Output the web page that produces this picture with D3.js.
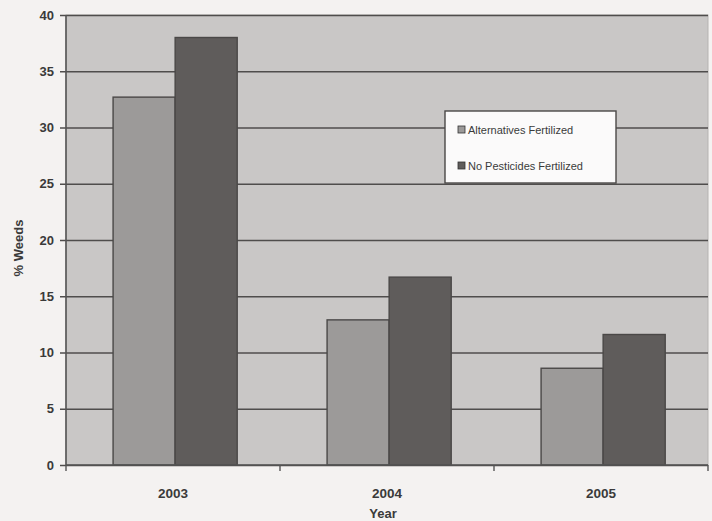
<!DOCTYPE html>
<html>
<head>
<meta charset="utf-8">
<script src="https://cdn.jsdelivr.net/npm/d3@7"></script>
<style>
  html, body { margin: 0; padding: 0; background: #f4f2f1; }
  svg { display: block; }
  text { font-family: "Liberation Sans", Arial, sans-serif; fill: #3a3a3a; }
</style>
</head>
<body>
<svg id="chart" width="712" height="521"></svg>
<script>
// Weed cover by year for two fertilized treatments
const years = ["2003", "2004", "2005"];
const seriesNames = ["Alternatives Fertilized", "No Pesticides Fertilized"];
const alternativesFertilized = [32.7, 12.9, 8.6];
const noPesticidesFertilized = [38.0, 16.7, 11.6];
const yTicks = [0, 5, 10, 15, 20, 25, 30, 35, 40];

const seriesValues = [alternativesFertilized, noPesticidesFertilized];
const seriesFill = ["#9c9a99", "#5f5c5b"];

const svg = d3.select("#chart");
const margin = { top: 15, right: 4, bottom: 56, left: 66 };
const W = 712, H = 521;
const iw = W - margin.left - margin.right;
const ih = H - margin.top - margin.bottom;

const g = svg.append("g").attr("transform", `translate(${margin.left},${margin.top})`);

const x = d3.scaleBand().domain(years).range([0, iw]).paddingInner(0).paddingOuter(0);
const xs = d3.scaleBand().domain(seriesNames).range([x.bandwidth() * 0.22, x.bandwidth() * 0.80]).padding(0);
const y = d3.scaleLinear().domain([0, 40]).range([ih, 0]);

// plot area background
g.append("rect")
  .attr("x", 0).attr("y", 0).attr("width", iw).attr("height", ih)
  .attr("fill", "#c9c7c6")
  .attr("stroke", "#b5b3b2").attr("stroke-width", 1);

// gridlines + y axis with outward ticks
const yAxis = d3.axisLeft(y).tickValues(yTicks).tickSize(-iw).tickPadding(12).tickSizeOuter(0);
const ya = g.append("g").call(yAxis);
ya.select(".domain").remove();
ya.selectAll(".tick line").attr("stroke", "#4f4d4c").attr("stroke-width", 1.6).attr("x1", -6);
ya.selectAll(".tick text")
  .attr("font-size", 13).attr("font-weight", "bold").attr("fill", "#383838")
  .style("font-family", "'Liberation Sans', Arial, sans-serif");

// bars
const groups = g.selectAll(".year").data(years).join("g")
  .attr("class", "year")
  .attr("transform", d => `translate(${x(d)},0)`);

groups.selectAll("rect")
  .data((d, i) => seriesNames.map((s, k) => ({ s, k, v: seriesValues[k][i] })))
  .join("rect")
  .attr("x", d => xs(d.s))
  .attr("width", xs.bandwidth())
  .attr("y", d => y(d.v))
  .attr("height", d => y(0) - y(d.v))
  .attr("fill", d => seriesFill[d.k])
  .attr("stroke", "#4a4847")
  .attr("stroke-width", 1.4);

// y axis line
g.append("line").attr("x1", 0).attr("x2", 0).attr("y1", 0).attr("y2", ih)
  .attr("stroke", "#555").attr("stroke-width", 1.6);

// x axis with category boundary ticks
const xa = g.append("g").attr("transform", `translate(0,${ih})`);
xa.append("line").attr("x1", 0).attr("x2", iw).attr("stroke", "#555").attr("stroke-width", 1.6);
const bounds = d3.range(years.length + 1).map(i => i * x.bandwidth());
xa.selectAll(".bt").data(bounds).join("line")
  .attr("x1", d => d).attr("x2", d => d).attr("y1", 0).attr("y2", 6)
  .attr("stroke", "#555").attr("stroke-width", 1.4);
xa.selectAll(".lbl").data(years).join("text")
  .attr("x", d => x(d) + x.bandwidth() / 2)
  .attr("y", 33)
  .attr("text-anchor", "middle")
  .attr("font-size", 13.5).attr("font-weight", "bold")
  .text(d => d);

// axis titles
svg.append("text")
  .attr("x", 383).attr("y", 518)
  .attr("text-anchor", "middle")
  .attr("font-size", 13).attr("font-weight", "bold")
  .text("Year");
svg.append("text")
  .attr("transform", "translate(23,248) rotate(-90)")
  .attr("text-anchor", "middle")
  .attr("font-size", 13).attr("font-weight", "bold")
  .text("% Weeds");

// legend
const lg = svg.append("g").attr("transform", "translate(445,111)");
lg.append("rect").attr("width", 171).attr("height", 72)
  .attr("fill", "#fbfafa").attr("stroke", "#4a4847").attr("stroke-width", 1.4);
const li = lg.selectAll(".li").data(seriesNames).join("g")
  .attr("transform", (d, i) => `translate(13,${19 + i * 36})`);
li.append("rect").attr("x", 0).attr("y", -4).attr("width", 7).attr("height", 7)
  .attr("fill", (d, i) => seriesFill[i]).attr("stroke", "#333").attr("stroke-width", 0.8);
li.append("text").attr("x", 10).attr("y", 4)
  .attr("font-size", 11)
  .text(d => d);
</script>
</body>
</html>
